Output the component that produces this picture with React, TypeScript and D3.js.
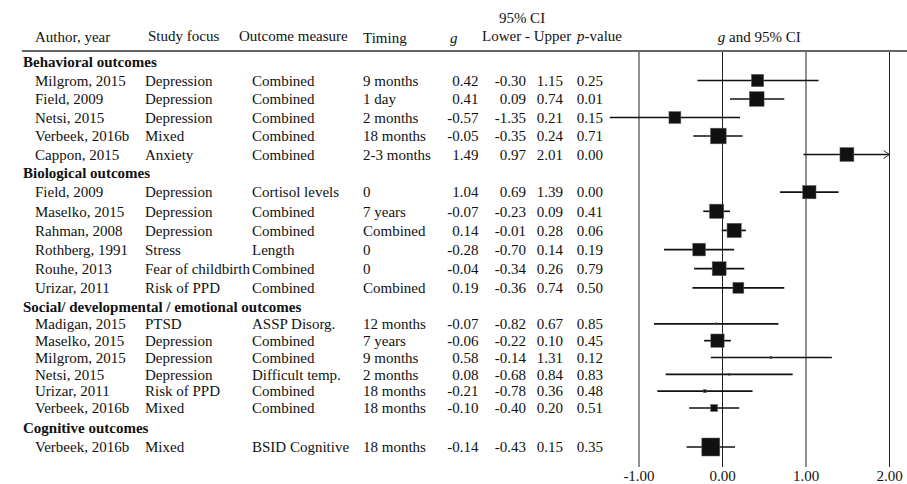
import React from "react";
import * as d3 from "d3";

const sections = [
  "Behavioral outcomes",
  "Biological outcomes",
  "Social/ developmental / emotional outcomes",
  "Cognitive outcomes",
];
const sectionOf = [0, 0, 0, 0, 0, 1, 1, 1, 1, 1, 1, 2, 2, 2, 2, 2, 2, 3];
const authors = [
  "Milgrom, 2015", "Field, 2009", "Netsi, 2015", "Verbeek, 2016b", "Cappon, 2015",
  "Field, 2009", "Maselko, 2015", "Rahman, 2008", "Rothberg, 1991", "Rouhe, 2013", "Urizar, 2011",
  "Madigan, 2015", "Maselko, 2015", "Milgrom, 2015", "Netsi, 2015", "Urizar, 2011", "Verbeek, 2016b",
  "Verbeek, 2016b",
];
const focus = [
  "Depression", "Depression", "Depression", "Mixed", "Anxiety",
  "Depression", "Depression", "Depression", "Stress", "Fear of childbirth", "Risk of PPD",
  "PTSD", "Depression", "Depression", "Depression", "Risk of PPD", "Mixed",
  "Mixed",
];
const outcomes = [
  "Combined", "Combined", "Combined", "Combined", "Combined",
  "Cortisol levels", "Combined", "Combined", "Length", "Combined", "Combined",
  "ASSP Disorg.", "Combined", "Combined", "Difficult temp.", "Combined", "Combined",
  "BSID Cognitive",
];
const timing = [
  "9 months", "1 day", "2 months", "18 months", "2-3 months",
  "0", "7 years", "Combined", "0", "0", "Combined",
  "12 months", "7 years", "9 months", "2 months", "18 months", "18 months",
  "18 months",
];
const gValues = [0.42, 0.41, -0.57, -0.05, 1.49, 1.04, -0.07, 0.14, -0.28, -0.04, 0.19, -0.07, -0.06, 0.58, 0.08, -0.21, -0.1, -0.14];
const lowerValues = [-0.3, 0.09, -1.35, -0.35, 0.97, 0.69, -0.23, -0.01, -0.7, -0.34, -0.36, -0.82, -0.22, -0.14, -0.68, -0.78, -0.4, -0.43];
const upperValues = [1.15, 0.74, 0.21, 0.24, 2.01, 1.39, 0.09, 0.28, 0.14, 0.26, 0.74, 0.67, 0.1, 1.31, 0.84, 0.36, 0.2, 0.15];
const pValues = [0.25, 0.01, 0.15, 0.71, 0.0, 0.0, 0.41, 0.06, 0.19, 0.79, 0.5, 0.85, 0.45, 0.12, 0.83, 0.48, 0.51, 0.35];
const weights = [47, 67, 44, 76, 60, 55, 63, 63, 50, 60, 37, 1.2, 55, 1.2, 1.2, 2.8, 15, 100];
const axisTicks = [-1, 0, 1, 2];

const W = 907;
const H = 484;
const FONT = "'Liberation Serif', 'Times New Roman', serif";
const FS = 15;

type Row = { kind: "section"; label: string } | { kind: "study"; i: number };

export default function App() {
  const rows: Row[] = [];
  let prev = -1;
  authors.forEach((_, i) => {
    if (sectionOf[i] !== prev) {
      rows.push({ kind: "section", label: sections[sectionOf[i]] });
      prev = sectionOf[i];
    }
    rows.push({ kind: "study", i });
  });

  const y = d3.scaleLinear().domain([0, 6, 13, 19, 21]).range([62, 173, 307, 408, 447]);
  const x = d3.scaleLinear().domain([-1, 2]).range([639, 889.5]);
  const size = d3.scaleSqrt().domain([0, 100]).range([0, 18]);
  const fmt = d3.format(".2f");
  const fmtN = (v: number) => fmt(v).replace("−", "-");
  const [xMin, xMax] = x.domain();

  const col = { author: 35, focus: 145, outcome: 252, timing: 363, g: 478.5, lower: 526, upper: 563, p: 603 };

  return (
    <svg width={W} height={H} style={{ position: "absolute", left: 0, top: 0, background: "#fff" }} fontFamily={FONT} fontSize={FS} fill="#111">
      <g>
        <text x={35} y={37} dy="0.35em">Author, year</text>
        <text x={148} y={36} dy="0.35em">Study focus</text>
        <text x={239} y={36} dy="0.35em">Outcome measure</text>
        <text x={363} y={38} dy="0.35em">Timing</text>
        <text x={450} y={38} dy="0.35em" fontStyle="italic">g</text>
        <text x={522} y={18} dy="0.35em" textAnchor="middle">95% CI</text>
        <text x={482} y={36} dy="0.35em">Lower - Upper</text>
        <text x={577} y={36} dy="0.35em"><tspan fontStyle="italic">p</tspan>-value</text>
        <text x={(x(xMin) + x(xMax)) / 2 - 5} y={37} dy="0.35em" textAnchor="middle"><tspan fontStyle="italic">g</tspan> and 95% CI</text>
        <line x1={22} x2={W} y1={51} y2={51} stroke="#333" strokeWidth={1.3} />
      </g>

      {axisTicks.map((t) => (
        <g key={t}>
          <line x1={x(t)} x2={x(t)} y1={52} y2={467} stroke="#222" strokeWidth={1} />
          <text x={x(t)} y={476} dy="0.35em" textAnchor="middle">{fmtN(t)}</text>
        </g>
      ))}

      {rows.map((r, k) => {
        const yy = y(k);
        if (r.kind === "section") {
          return (
            <text key={k} x={23} y={yy} dy="0.35em" fontWeight="bold">{r.label}</text>
          );
        }
        const i = r.i;
        const lo = lowerValues[i];
        const hi = upperValues[i];
        const clipped = hi > xMax;
        const xEnd = clipped ? x(xMax) : x(hi);
        const s = size(weights[i]);
        return (
          <g key={k}>
            <text x={col.author} y={yy} dy="0.35em">{authors[i]}</text>
            <text x={col.focus} y={yy} dy="0.35em">{focus[i]}</text>
            <text x={col.outcome} y={yy} dy="0.35em">{outcomes[i]}</text>
            <text x={col.timing} y={yy} dy="0.35em">{timing[i]}</text>
            <text x={col.g} y={yy} dy="0.35em" textAnchor="end">{fmtN(gValues[i])}</text>
            <text x={col.lower} y={yy} dy="0.35em" textAnchor="end">{fmtN(lo)}</text>
            <text x={col.upper} y={yy} dy="0.35em" textAnchor="end">{fmtN(hi)}</text>
            <text x={col.p} y={yy} dy="0.35em" textAnchor="end">{fmtN(pValues[i])}</text>
            <line x1={x(lo)} x2={xEnd} y1={yy} y2={yy} stroke="#111" strokeWidth={1.7} />
            {clipped && (
              <path d={`M${xEnd - 6},${yy - 4}L${xEnd},${yy}L${xEnd - 6},${yy + 4}`} fill="none" stroke="#333" strokeWidth={1} />
            )}
            <rect x={x(gValues[i]) - s / 2} y={yy - s / 2} width={s} height={s} fill="#111" stroke="#666" strokeWidth={0.5} />
          </g>
        );
      })}
    </svg>
  );
}
